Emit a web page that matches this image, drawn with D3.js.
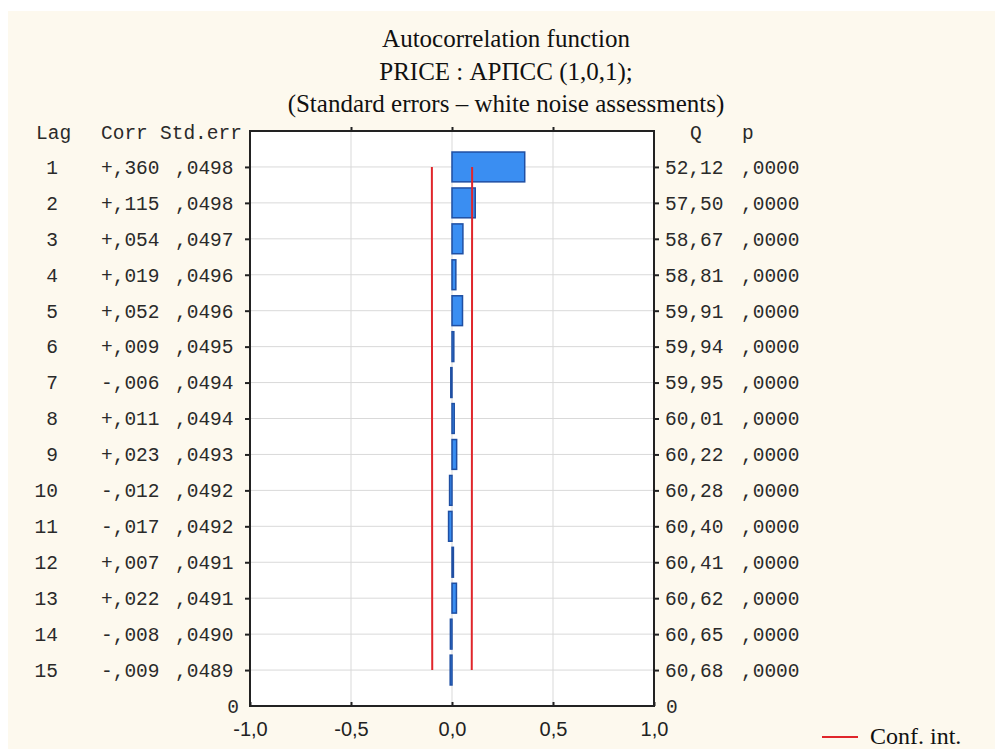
<!DOCTYPE html>
<html>
<head>
<meta charset="utf-8">
<script src="https://cdn.jsdelivr.net/npm/d3@7"></script>
<style>
  body { margin: 0; background: #ffffff; }
  svg { display: block; }
</style>
</head>
<body>
<div id="chart"></div>
<script>
// data
const lags = [1, 2, 3, 4, 5, 6, 7, 8, 9, 10, 11, 12, 13, 14, 15];
const corr = [0.360, 0.115, 0.054, 0.019, 0.052, 0.009, -0.006, 0.011, 0.023, -0.012, -0.017, 0.007, 0.022, -0.008, -0.009];
const stdErr = [0.0498, 0.0498, 0.0497, 0.0496, 0.0496, 0.0495, 0.0494, 0.0494, 0.0493, 0.0492, 0.0492, 0.0491, 0.0491, 0.0490, 0.0489];
const qStat = [52.12, 57.50, 58.67, 58.81, 59.91, 59.94, 59.95, 60.01, 60.22, 60.28, 60.40, 60.41, 60.62, 60.65, 60.68];
const pVal = [0, 0, 0, 0, 0, 0, 0, 0, 0, 0, 0, 0, 0, 0, 0];
const xTicks = [-1, -0.5, 0, 0.5, 1];
const titleLines = ["Autocorrelation function", "PRICE : АРПСС (1,0,1);", "(Standard errors – white noise assessments)"];

const width = 995, height = 749;
const plot = { left: 250, right: 654, top: 131, bottom: 706 };
const mono = "'Liberation Mono', 'Courier New', monospace";
const serif = "'Liberation Serif', 'Times New Roman', serif";
const sans = "'Liberation Sans', Arial, sans-serif";

const svg = d3.select("#chart").append("svg")
  .attr("width", width)
  .attr("height", height);

// cream panel
svg.append("rect")
  .attr("x", 8).attr("y", 11)
  .attr("width", width - 8).attr("height", height - 11)
  .attr("fill", "#fdf9ee");

const x = d3.scaleLinear().domain([-1, 1]).range([plot.left, plot.right]);
const y = d3.scaleLinear().domain([0, lags.length + 1]).range([plot.top, plot.bottom]);

// plot area
svg.append("rect")
  .attr("x", plot.left).attr("y", plot.top)
  .attr("width", plot.right - plot.left).attr("height", plot.bottom - plot.top)
  .attr("fill", "#ffffff");

// grid
svg.append("g").selectAll("line.v")
  .data([-0.5, 0, 0.5])
  .join("line")
  .attr("x1", d => x(d)).attr("x2", d => x(d))
  .attr("y1", plot.top).attr("y2", plot.bottom)
  .attr("stroke", "#d9d9d9");

svg.append("g").selectAll("line.h")
  .data(lags)
  .join("line")
  .attr("x1", plot.left).attr("x2", plot.right)
  .attr("y1", d => y(d)).attr("y2", d => y(d))
  .attr("stroke", "#d9d9d9");

// bars
const barH = (y(1) - y(0)) * 0.83;
svg.append("g").selectAll("rect")
  .data(lags)
  .join("rect")
  .attr("x", (d, i) => x(Math.min(0, corr[i])))
  .attr("y", d => y(d) - barH / 2)
  .attr("width", (d, i) => Math.abs(x(corr[i]) - x(0)))
  .attr("height", barH)
  .attr("fill", "#3a8ef2")
  .attr("stroke", "#1f4fa3")
  .attr("stroke-width", 1.5);

// confidence limits, 2 * std.err
const upper = d3.line().x((d, i) => x(2 * stdErr[i])).y(d => y(d));
const lower = d3.line().x((d, i) => x(-2 * stdErr[i])).y(d => y(d));
svg.append("path").datum(lags).attr("d", upper)
  .attr("fill", "none").attr("stroke", "#e0262b").attr("stroke-width", 2);
svg.append("path").datum(lags).attr("d", lower)
  .attr("fill", "none").attr("stroke", "#e0262b").attr("stroke-width", 2);

// axes
const fmtX = d => d3.format(".1f")(d).replace("−", "-").replace(".", ",");

const xAxis = svg.append("g")
  .attr("transform", `translate(0,${plot.bottom})`)
  .call(d3.axisBottom(x).tickValues(xTicks).tickFormat(fmtX).tickSizeInner(-4).tickSizeOuter(0).tickPadding(16));
xAxis.select(".domain").remove();
xAxis.selectAll("text").attr("font-family", sans).attr("font-size", 20).attr("fill", "#222");
xAxis.selectAll(".tick line").attr("stroke", "#222").attr("stroke-width", 2);

const topAxis = svg.append("g")
  .attr("transform", `translate(0,${plot.top})`)
  .call(d3.axisTop(x).tickValues([-0.5, 0, 0.5]).tickFormat("").tickSize(4).tickSizeOuter(0));
topAxis.select(".domain").remove();
topAxis.selectAll(".tick line").attr("stroke", "#222").attr("stroke-width", 2);

const leftAxis = svg.append("g")
  .attr("transform", `translate(${plot.left},0)`)
  .call(d3.axisLeft(y).tickValues(lags).tickFormat("").tickSize(5).tickSizeOuter(0));
leftAxis.select(".domain").remove();
leftAxis.selectAll(".tick line").attr("stroke", "#222").attr("stroke-width", 2);

const rightAxis = svg.append("g")
  .attr("transform", `translate(${plot.right},0)`)
  .call(d3.axisRight(y).tickValues(lags).tickFormat("").tickSize(5).tickSizeOuter(0));
rightAxis.select(".domain").remove();
rightAxis.selectAll(".tick line").attr("stroke", "#222").attr("stroke-width", 2);

// frame
svg.append("rect")
  .attr("x", plot.left).attr("y", plot.top)
  .attr("width", plot.right - plot.left).attr("height", plot.bottom - plot.top)
  .attr("fill", "none")
  .attr("stroke", "#222")
  .attr("stroke-width", 2);

// table columns
const fmtCorr = v => (v < 0 ? "-" : "+") + d3.format(".3f")(Math.abs(v)).replace("0.", ",");
const fmtErr = v => d3.format(".4f")(v).replace("0.", ",");
const fmtQ = v => d3.format(".2f")(v).replace(".", ",");
const fmtP = v => d3.format(".4f")(v).replace("0.", ",");

const table = svg.append("g")
  .attr("font-family", mono)
  .attr("font-size", 19.5)
  .attr("fill", "#2a2a2a");

function column(xPos, anchor, header, values) {
  if (header) {
    table.append("text")
      .attr("x", header[0]).attr("y", y(0) + 1)
      .attr("dy", "0.35em")
      .text(header[1]);
  }
  table.append("g").selectAll("text")
    .data(values)
    .join("text")
    .attr("x", xPos)
    .attr("y", (d, i) => y(lags[i]))
    .attr("dy", "0.35em")
    .attr("text-anchor", anchor)
    .text(d => d);
}

column(58, "end", [36, "Lag"], lags.map(String));
column(101, "start", [101, "Corr"], corr.map(fmtCorr));
column(175, "start", [160, "Std.err"], stdErr.map(fmtErr));
column(665, "start", [690, "Q"], qStat.map(fmtQ));
column(741, "start", [742, "p"], pVal.map(fmtP));

// "0" labels at the bottom of the lag axis
table.append("text").attr("x", 239).attr("y", plot.bottom).attr("dy", "0.35em")
  .attr("text-anchor", "end").text("0");
table.append("text").attr("x", 666).attr("y", plot.bottom).attr("dy", "0.35em")
  .text("0");

// title
svg.append("g").selectAll("text")
  .data(titleLines)
  .join("text")
  .attr("x", 506)
  .attr("y", (d, i) => 47 + i * 32.5)
  .attr("text-anchor", "middle")
  .attr("font-family", serif)
  .attr("font-size", 25)
  .attr("fill", "#111")
  .text(d => d);

// legend
svg.append("line")
  .attr("x1", 822).attr("x2", 858)
  .attr("y1", 737).attr("y2", 737)
  .attr("stroke", "#e0262b").attr("stroke-width", 2);
svg.append("text")
  .attr("x", 870).attr("y", 744)
  .attr("font-family", serif)
  .attr("font-size", 24)
  .attr("fill", "#111")
  .text("Conf. int.");
</script>
</body>
</html>
